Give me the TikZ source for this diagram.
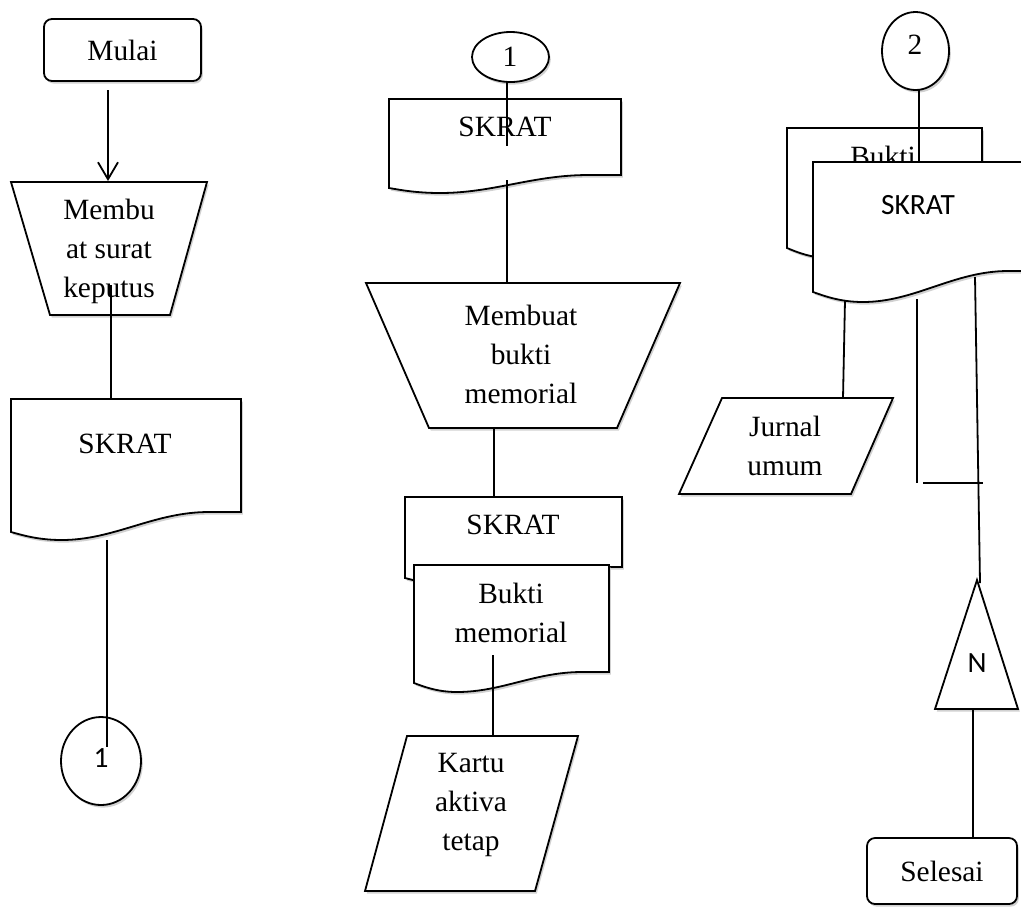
\documentclass[tikz,border=0pt]{standalone}
\usepackage{fontspec}
\setmainfont{Liberation Serif}
\newfontfamily\calfont{Carlito}
\usetikzlibrary{arrows.meta,shapes.geometric}
\newcommand\docdraw[6]{\draw[box] (#1,#3) -- (#2,#3) -- (#2,#5) -- ({#2-0.14*(#2-#1)},#5) .. controls ({#2-0.38*(#2-#1)},#5) and ({#1+0.45*(#2-#1)},#6) .. ({#1+0.22*(#2-#1)},#6) .. controls ({#1+0.12*(#2-#1)},#6) and ({#1+0.05*(#2-#1)},{#4+0.4*(#6-#4)}) .. (#1,#4) -- cycle;}
\begin{document}
\begin{tikzpicture}[x=0.5pt,y=-0.5pt,line width=0.9pt,
  box/.style={draw=black,fill=white,line join=miter,preaction={fill=black!18,transform canvas={shift={(0.9pt,-1.3pt)}}}},
  conn/.style={draw=black,line width=0.9pt},
  txt/.style={font=\fontsize{14.7}{19.5}\selectfont,align=center,inner sep=0pt},
  sans/.style={font=\calfont\fontsize{14.7}{19.5}\selectfont,inner sep=0pt},
  term/.style={box,rounded corners=4pt,font=\fontsize{14.7}{19.5}\selectfont,inner sep=0pt},
  circ/.style={box,ellipse,inner sep=0pt}]
\useasboundingbox (0,0) rectangle (1021,907);
\clip (0,0) rectangle (1021,907);
% ---------- left column
\node[term,minimum width=78.5pt,minimum height=31pt] (mulai) at (122.5,50) {Mulai};
\coordinate (a1) at (108,90);
\coordinate (a2) at (108,181);
\draw[box] (11,182) -- (207,182) -- (170,315) -- (50,315) -- cycle;
\node[txt] (membu) at (109,251) {Membu\\at surat\\keputus};
\draw[conn,-{Straight Barb[length=8.5pt,width=10pt]}] (a1) -- (a2);
\docdraw{11}{241}{399}{532}{512}{540}
\node[txt] (skrat1) at (125,444) {SKRAT};
\coordinate (b1) at (111,285);
\coordinate (b2) at (111,399);
\draw[conn] (b1) -- (b2);
\node[circ,minimum width=40pt,minimum height=44pt] (c1) at (101,761) {};
\node[sans] (c1t) at (101,758) {1};
\coordinate (d1) at (107,540);
\coordinate (d2) at (107,747);
\draw[conn] (d1) -- (d2);
% ---------- middle column
\node[circ,minimum width=38.5pt,minimum height=25pt] (m1) at (510.5,57) {};
\node[txt] (m1t) at (510,57) {1};
\docdraw{389}{621}{99}{188}{175}{193}
\node[txt] (skrat2) at (505,127) {SKRAT};
\coordinate (e0) at (507,82);
\coordinate (e1) at (507,146);
\draw[conn] (e0) -- (e1);
\draw[box] (366,283) -- (680,283) -- (617,428) -- (429,428) -- cycle;
\coordinate (e2) at (507,180);
\coordinate (e3) at (507,283);
\draw[conn] (e2) -- (e3);
\node[txt] (mbm) at (521,354) {Membuat\\bukti\\memorial};
\coordinate (f1) at (494,428);
\coordinate (f2) at (494,497);
\draw[conn] (f1) -- (f2);
\docdraw{405}{622}{497}{578}{567}{585}
\node[txt] (skrat3) at (513,525) {SKRAT};
\docdraw{414}{609}{565}{683}{672}{692}
\node[txt] (bm) at (511,613) {Bukti\\memorial};
\draw[box] (407,736) -- (578,736) -- (535,891) -- (365,891) -- cycle;
\node[txt] (kartu) at (471,805) {Kartu\\aktiva\\tetap};
\coordinate (g1) at (493,655);
\coordinate (g2) at (493,736);
\draw[conn] (g1) -- (g2);
% ---------- right column
\node[circ,minimum width=33.5pt,minimum height=39pt] (m2) at (915.5,51) {};
\node[txt] (m2t) at (915,45) {2};
\docdraw{787}{982}{128}{248}{230}{258}
\node[txt,anchor=base] (bukti2) at (883,166) {Bukti};
\coordinate (h1) at (919,90);
\coordinate (h2) at (919,162);
\draw[conn] (h1) -- (h2);
\docdraw{813}{1040}{162}{292}{271}{302}
\node[sans] (skrat4) at (918,205) {SKRAT};
\draw[box] (722,398) -- (893,398) -- (851,494) -- (679,494) -- cycle;
\node[txt] (jurnal) at (785,446) {Jurnal\\umum};
\coordinate (j1) at (845,300);
\coordinate (j2) at (843,398);
\draw[conn] (j1) -- (j2);
\coordinate (k1) at (917,299);
\coordinate (k2) at (917,483);
\draw[conn] (k1) -- (k2);
\coordinate (k3) at (923,483);
\coordinate (k4) at (983,483);
\draw[conn] (k3) -- (k4);
\draw[box] (977,580) -- (1018,709) -- (935,709) -- cycle;
\node[sans] (nn) at (977,663) {N};
\coordinate (l1) at (975,277);
\coordinate (l2) at (980,583);
\draw[conn] (l1) -- (l2);
\coordinate (n1) at (973,709);
\coordinate (n2) at (973,838);
\draw[conn] (n1) -- (n2);
\node[term,minimum width=75pt,minimum height=33pt] (selesai) at (942,871) {Selesai};
\end{tikzpicture}
\end{document}
